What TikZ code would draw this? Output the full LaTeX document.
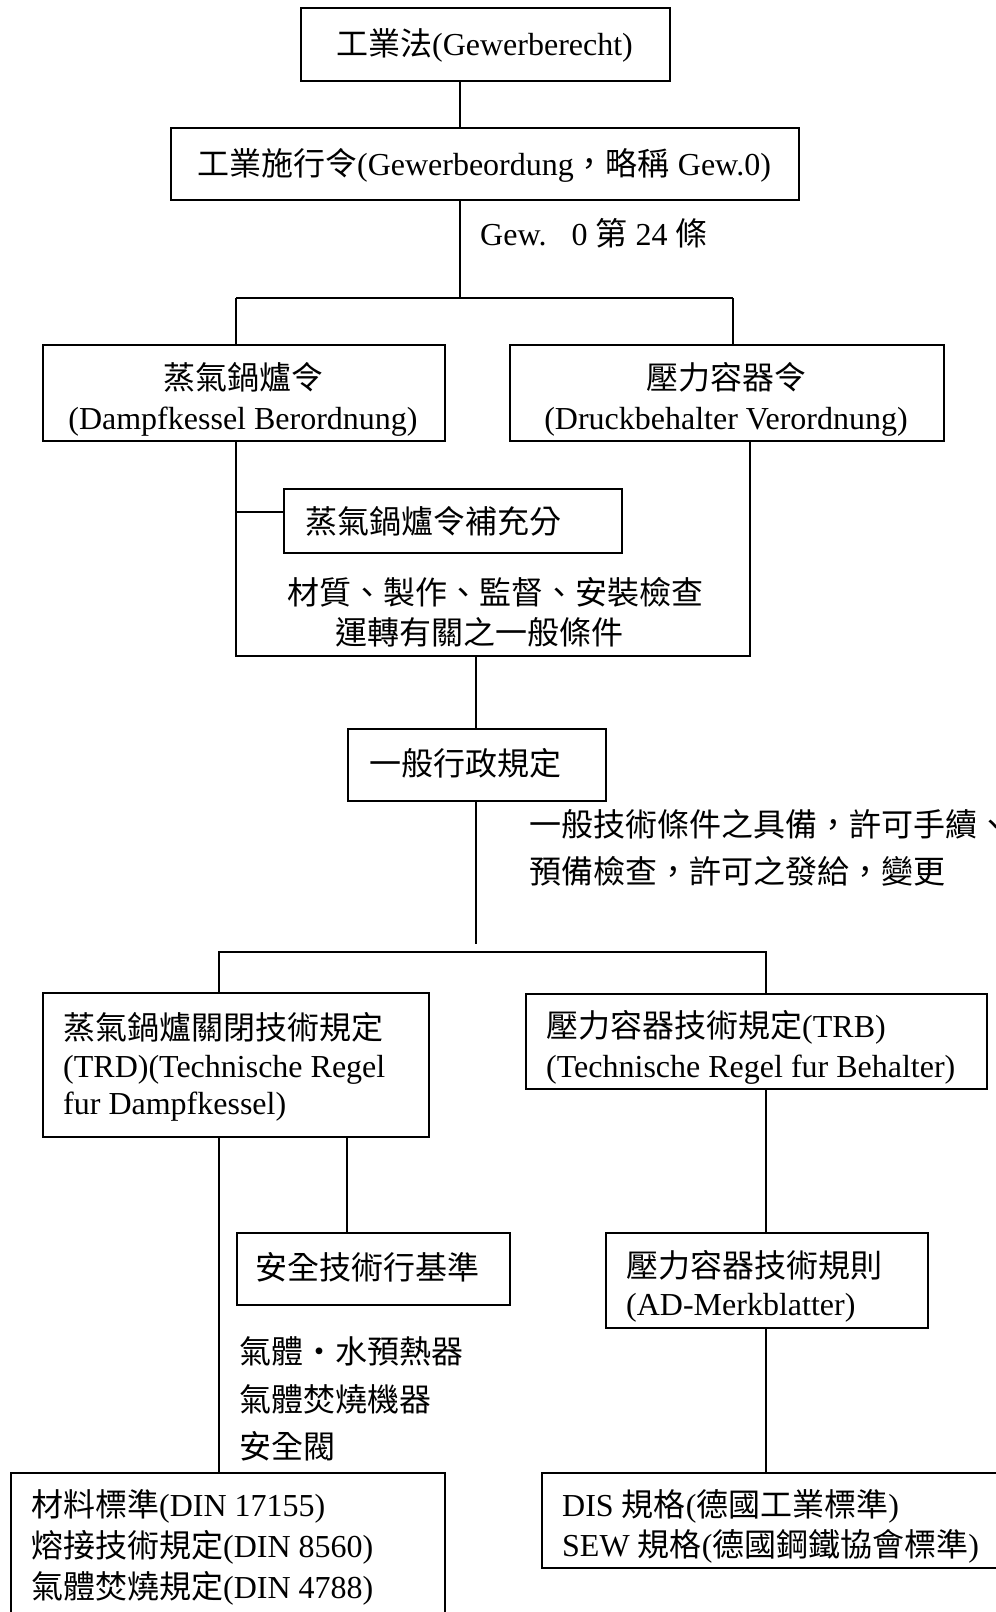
\documentclass[tikz,border=0pt]{standalone}
\usepackage{fontspec}
\setmainfont{Liberation Serif}
\newfontfamily\cjk{Noto Sans CJK TC}
\newcommand\C[1]{{\cjk #1}}
\begin{document}
\begin{tikzpicture}[x=1pt,y=-1pt,
  box/.style={draw, line width=1.6pt, inner sep=0pt, anchor=north west},
  conn/.style={line width=1.2pt},
  txt/.style={inner sep=0pt, anchor=base west, font=\fontsize{32}{38}\selectfont},
  ctxt/.style={txt, anchor=base}]
\useasboundingbox (0,0) rectangle (996,1612);

% boxes
\node[box, minimum width=369pt, minimum height=73pt] (b1) at (300,7) {};
\node[box, minimum width=628pt, minimum height=72pt] (b2) at (170,127) {};
\node[box, minimum width=402pt, minimum height=96pt] (b3) at (42,344) {};
\node[box, minimum width=434pt, minimum height=96pt] (b4) at (509,344) {};
\node[box, minimum width=338pt, minimum height=64pt] (b5) at (283,488) {};
\node[box, minimum width=258pt, minimum height=72pt] (b6) at (347,728) {};
\node[box, minimum width=386pt, minimum height=144pt] (b7) at (42,992) {};
\node[box, minimum width=461pt, minimum height=95pt] (b8) at (525,993) {};
\node[box, minimum width=273pt, minimum height=72pt] (b9) at (236,1232) {};
\node[box, minimum width=322pt, minimum height=95pt] (b10) at (605,1232) {};
\node[box, minimum width=434pt, minimum height=168pt] (b11) at (10,1472) {};
\node[box, minimum width=469pt, minimum height=95pt] (b12) at (541,1472) {};

% junction coordinates
\coordinate (k1) at (460,298);
\coordinate (k1l) at (236,298);
\coordinate (k1r) at (733,298);
\coordinate (u1) at (236,656);
\coordinate (u2) at (750,656);
\coordinate (um) at (476,656);
\coordinate (br) at (236,512);
\coordinate (g1) at (476,944);
\coordinate (k2l) at (219,952);
\coordinate (k2r) at (766,952);
\coordinate (d2) at (347,1136);

% connectors
\draw[conn] (b1.south -| k1) -- (b2.north -| k1);
\draw[conn] (b2.south -| k1) -- (k1);
\draw[conn] (k1l) -- (k1r);
\draw[conn] (k1l) -- (b3.north -| k1l);
\draw[conn] (k1r) -- (b4.north -| k1r);
\draw[conn] (b3.south -| u1) -- (u1) -- (u2) -- (b4.south -| u2);
\draw[conn] (br) -- (br -| b5.west);
\draw[conn] (um) -- (b6.north -| um);
\draw[conn] (b6.south -| um) -- (g1);
\draw[conn] (b7.north -| k2l) -- (k2l) -- (k2r) -- (b8.north -| k2r);
\draw[conn] (b7.south -| k2l) -- (b11.north -| k2l);
\draw[conn] (d2) -- (b9.north -| d2);
\draw[conn] (b8.south -| k2r) -- (b10.north -| k2r);
\draw[conn] (b10.south -| k2r) -- (b12.north -| k2r);

% texts
\node[ctxt] (t1) at (484.5,55) {\C{工業法}(Gewerberecht)};
\node[ctxt] (t2) at (484,175) {\C{工業施行令}(Gewerbeordung\C{，略稱} Gew.0)};
\node[txt] (l1) at (480,245) {Gew.\hspace{25pt}0 \C{第} 24 \C{條}};
\node[ctxt] (t3a) at (243,389) {\C{蒸氣鍋爐令}};
\node[ctxt] (t3b) at (243,429) {(Dampfkessel Berordnung)};
\node[ctxt] (t4a) at (726,389) {\C{壓力容器令}};
\node[ctxt] (t4b) at (726,429) {(Druckbehalter Verordnung)};
\node[txt] (t5) at (305,533) {\C{蒸氣鍋爐令補充分}};
\node[txt] (l2a) at (287,604) {\C{材質、製作、監督、安裝檢查}};
\node[txt] (l2b) at (335,644) {\C{運轉有關之一般條件}};
\node[txt] (t6) at (369,775) {\C{一般行政規定}};
\node[txt] (l3a) at (529,836) {\C{一般技術條件之具備，許可手續、}};
\node[txt] (l3b) at (529,883) {\C{預備檢查，許可之發給，變更}};
\node[txt] (t7a) at (63,1039) {\C{蒸氣鍋爐關閉技術規定}};
\node[txt] (t7b) at (63,1077) {(TRD)(Technische Regel};
\node[txt] (t7c) at (63,1114) {fur Dampfkessel)};
\node[txt] (t8a) at (546,1037) {\C{壓力容器技術規定}(TRB)};
\node[txt] (t8b) at (546,1077) {(Technische Regel fur Behalter)};
\node[txt] (t9) at (255,1279) {\C{安全技術行基準}};
\node[txt] (t10a) at (626,1277) {\C{壓力容器技術規則}};
\node[txt] (t10b) at (626,1315) {(AD-Merkblatter)};
\node[txt] (l4a) at (239,1363) {\C{氣體・水預熱器}};
\node[txt] (l4b) at (239,1411) {\C{氣體焚燒機器}};
\node[txt] (l4c) at (239,1458) {\C{安全閥}};
\node[txt] (t11a) at (31,1516) {\C{材料標準}(DIN 17155)};
\node[txt] (t11b) at (31,1557) {\C{熔接技術規定}(DIN 8560)};
\node[txt] (t11c) at (31,1598) {\C{氣體焚燒規定}(DIN 4788)};
\node[txt] (t12a) at (562,1516) {DIS \C{規格}(\C{德國工業標準})};
\node[txt] (t12b) at (562,1556) {SEW \C{規格}(\C{德國鋼鐵協會標準})};
\end{tikzpicture}
\end{document}
